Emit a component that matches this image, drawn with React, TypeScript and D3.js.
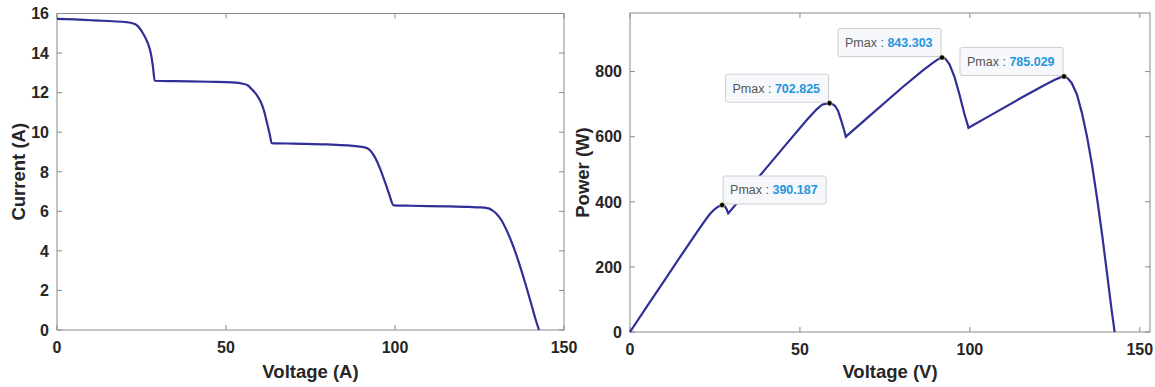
import React from "react";
import * as d3 from "d3";

// PV string sweep
const voltage = [
  0, 5, 10, 15, 20, 22, 23.5, 24.5, 25.5, 26.3, 27.1, 27.8, 28.4, 28.9,
  35, 45, 52, 55, 56.5, 57.8, 58.7, 59.5, 60.3, 61.2, 62.2, 63.0, 63.5,
  70, 80, 86, 89, 90.8, 91.8, 92.8, 94, 95.5, 97, 98.3, 99.6,
  105, 115, 122, 125, 127, 127.7, 128.8, 130, 131.5, 133, 134.5, 136, 137.5, 139, 140.5, 141.7, 142.6,
];
const current = [
  15.73, 15.7, 15.66, 15.62, 15.57, 15.52, 15.42, 15.24, 14.98, 14.72, 14.4, 13.95, 13.3, 12.6,
  12.58, 12.55, 12.52, 12.45, 12.36, 12.14, 11.973, 11.773, 11.526, 11.11, 10.42, 9.84, 9.45,
  9.42, 9.38, 9.33, 9.28, 9.24, 9.186, 9.05, 8.75, 8.2, 7.5, 6.85, 6.3,
  6.28, 6.25, 6.22, 6.2, 6.17, 6.147, 6.05, 5.88, 5.55, 5.05, 4.45, 3.75, 2.95, 2.1, 1.2, 0.48, 0,
];
const power = [
  0, 78.5, 156.6, 234.3, 311.4, 341.4, 362.4, 373.4, 382.0, 387.1, 390.2, 387.8, 377.7, 364.1,
  440.3, 564.8, 651.0, 684.8, 698.3, 701.7, 702.8, 700.5, 695.0, 680.0, 648.0, 620.0, 600.1,
  659.4, 750.4, 802.4, 825.9, 839.0, 843.3, 839.8, 822.5, 783.1, 727.5, 673.4, 627.5,
  659.4, 718.8, 758.8, 775.0, 783.6, 785.0, 779.2, 764.4, 729.8, 671.7, 598.5, 510.0, 405.6, 291.9, 168.6, 68.0, 0,
];

const peakVoltage = [27.1, 58.7, 91.8, 127.7];
const peakPower = [390.187, 702.825, 843.303, 785.029];

const voltageTicks = [0, 50, 100, 150];
const currentTicks = [0, 2, 4, 6, 8, 10, 12, 14, 16];
const powerTicks = [0, 200, 400, 600, 800];

const FONT = "'Liberation Sans', Arial, Helvetica, sans-serif";
const LINE = "#2f2f96";
const AXIS = "#8a8a8a";

const Frame = ({ x, y, xTicks, yTicks, xLabel, yLabel, yLabelX }) => {
  const [x0, x1] = x.range();
  const [y0, y1] = y.range();
  const tl = 5;
  return (
    <g fontFamily={FONT} fontWeight="bold" fill="#262626">
      <rect x={x0} y={y1} width={x1 - x0} height={y0 - y1} fill="none" stroke={AXIS} strokeWidth={1} />
      {xTicks.map((t) => (
        <g key={"x" + t}>
          <line x1={x(t)} x2={x(t)} y1={y0} y2={y0 - tl} stroke={AXIS} />
          <line x1={x(t)} x2={x(t)} y1={y1} y2={y1 + tl} stroke={AXIS} />
          <text x={x(t)} y={y0 + 23} textAnchor="middle" fontSize={16}>{t}</text>
        </g>
      ))}
      {yTicks.map((t) => (
        <g key={"y" + t}>
          <line x1={x0} x2={x0 + tl} y1={y(t)} y2={y(t)} stroke={AXIS} />
          <line x1={x1} x2={x1 - tl} y1={y(t)} y2={y(t)} stroke={AXIS} />
          <text x={x0 - 8} y={y(t)} dy="0.36em" textAnchor="end" fontSize={16}>{t}</text>
        </g>
      ))}
      <text x={(x0 + x1) / 2} y={378} textAnchor="middle" fontSize={18.5}>{xLabel}</text>
      <text
        transform={`translate(${yLabelX},${(y0 + y1) / 2}) rotate(-90)`}
        textAnchor="middle"
        fontSize={18.5}
      >
        {yLabel}
      </text>
    </g>
  );
};

const App = () => {
  const xi = d3.scaleLinear().domain([0, 150]).range([57, 564]);
  const yi = d3.scaleLinear().domain([0, 16]).range([330, 13.5]);
  const xp = d3.scaleLinear().domain([0, 153]).range([630, 1150]);
  const yp = d3.scaleLinear().domain([0, 980]).range([332, 13]);

  const ivLine = d3
    .line<number>()
    .x((d, i) => xi(voltage[i]))
    .y((d) => yi(d))
    .curve(d3.curveMonotoneX);
  const pvLine = d3
    .line<number>()
    .x((d, i) => xp(voltage[i]))
    .y((d) => yp(d));

  const boxW = 103;
  const boxH = 28;

  return (
    <div style={{ position: "absolute", left: 0, top: 0 }}>
      <svg width={1155} height={387} style={{ display: "block", background: "#fff" }}>
        <Frame x={xi} y={yi} xTicks={voltageTicks} yTicks={currentTicks}
          xLabel="Voltage (A)" yLabel="Current (A)" yLabelX={25} />
        <path d={ivLine(current)} fill="none" stroke={LINE} strokeWidth={2.2} />

        <Frame x={xp} y={yp} xTicks={voltageTicks} yTicks={powerTicks}
          xLabel="Voltage (V)" yLabel="Power (W)" yLabelX={589} />
        <path d={pvLine(power)} fill="none" stroke={LINE} strokeWidth={2.2} />

        {peakPower.map((p, i) => {
          const cx = xp(peakVoltage[i]);
          const cy = yp(p);
          const bx = i === 0 ? cx + 1 : cx - boxW - 1;
          const by = cy - boxH - 1;
          return (
            <g key={"tip" + i}>
              <rect x={bx} y={by} width={boxW} height={boxH} rx={2}
                fill="#f6f8fb" stroke="#cfcfcf" strokeWidth={1} />
              <text x={bx + 7} y={by + boxH / 2 + 4.5} fontFamily={FONT} fontSize={12.5}>
                <tspan fill="#555">Pmax : </tspan>
                <tspan fill="#2596de" fontWeight="bold">{p.toFixed(3)}</tspan>
              </text>
              <circle cx={cx} cy={cy} r={2.6} fill="#000" stroke="#e8e8a0" strokeWidth={0.6} />
            </g>
          );
        })}
      </svg>
    </div>
  );
};

export default App;
